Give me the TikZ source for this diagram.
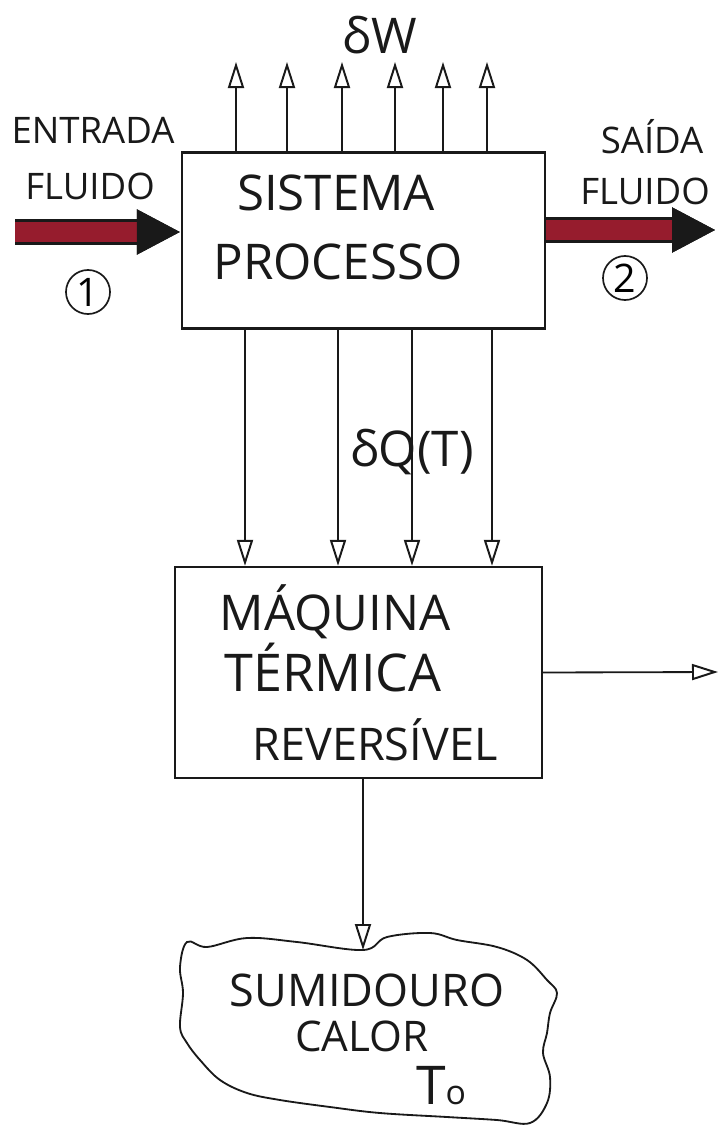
\documentclass[tikz,border=0pt]{standalone}
\usepackage{fontspec}
\setmainfont{Open Sans}
\usepackage{xcolor}
\definecolor{fluid}{RGB}{150,28,45}
\definecolor{pencil}{RGB}{25,25,25}
\usepackage{tikz}
\usetikzlibrary{arrows.meta, positioning, calc}

\begin{document}
\begin{tikzpicture}[
        x=0.025cm, y=-0.025cm,
        caixa/.style={rectangle, draw=pencil, line width=1.6pt, inner sep=0pt},
        rotulo/.style={font=\fontsize{35}{38}\selectfont, text=pencil, inner sep=1pt},
        nota/.style={font=\fontsize{26}{30}\selectfont, text=pencil, inner sep=1pt},
        seta/.style={draw=pencil, line width=1.3pt, -{Triangle[open, length=0.65cm, width=0.4cm, line width=1.4pt]}},
        fluxo/.style={draw=fluid, line width=0.52cm, preaction={draw=pencil, line width=0.64cm}, -{Triangle[length=1.1cm, width=1.05cm, color=pencil, fill=pencil]}},
        marco/.style={circle, draw=pencil, line width=1.2pt, minimum size=1.1cm, inner sep=0pt, font=\fontsize{28}{30}\selectfont}
    ]
        \useasboundingbox (0,0) rectangle (724,1128);

        \node[caixa, minimum width=9.075cm, minimum height=4.4cm] (sis) at (363.5,240.5) {};
        \node[rotulo] (sis1) at (336,193) {SISTEMA};
        \node[rotulo] (sis2) at (338,262) {PROCESSO};

        \node[caixa, minimum width=9.175cm, minimum height=5.275cm] (maq) at (358.5,672.5) {};
        \node[rotulo] (maq1) at (335,612) {MÁQUINA};
        \node[rotulo, font=\fontsize{37}{40}\selectfont] (maq2) at (333,668) {TÉRMICA};
        \node[rotulo, font=\fontsize{32}{35}\selectfont] (maq3) at (375,740) {REVERSÍVEL};

        \node[nota] (ent1) at (93,130) {ENTRADA};
        \node[nota] (ent2) at (90,186) {FLUIDO};
        \node[nota] (sai1) at (652,137) {SAÍDA};
        \node[nota] (sai2) at (645,191) {FLUIDO};
        \node[marco] (m1) at (88,292) {1};
        \node[marco] (m2) at (625,278) {2};

        \coordinate (ent) at (15,232);
        \coordinate (sai) at (716,230);
        \draw[fluxo] (ent) -- (ent -| sis.west);
        \draw[fluxo] (sai -| sis.east) -- (sai);

        \node[rotulo] (dw) at (380,35) {δW};
        \foreach \x [count=\i] in {236,287,342,395,443,487} {
            \coordinate (w\i) at (\x,62);
            \draw[seta] (sis.north -| w\i) -- (w\i);
        }

        \foreach \x [count=\i] in {245,338,412,492} {
            \coordinate (q\i) at (\x,450);
            \draw[seta] (sis.south -| q\i) -- (maq.north -| q\i);
        }
        \node[rotulo] (dq) at (412,452) {δQ(T)};

        \coordinate (wout) at (718,672);
        \draw[seta] (maq.east) -- (wout);

        \draw[pencil, line width=1.3pt] plot[smooth cycle, tension=0.6] coordinates {
            (187,942) (207,947) (247,938) (297,942) (363,950) (387,937) (430,933)
            (457,940) (497,947) (527,960) (547,980) (557,993) (550,1013) (547,1033)
            (543,1053) (550,1077) (547,1103) (530,1123) (497,1120) (447,1117)
            (380,1113) (330,1107) (280,1100) (247,1093) (220,1080) (200,1060)
            (187,1043) (180,1027) (183,993) (180,967)};
        \coordinate (sumtop) at (363,950);
        \node[rotulo, font=\fontsize{32}{35}\selectfont] (sum1) at (367,990) {SUMIDOURO};
        \node[rotulo, font=\fontsize{30}{34}\selectfont] (sum2) at (362,1036) {CALOR};
        \node[rotulo, font=\fontsize{38}{42}\selectfont] (sum3) at (441,1086) {T{\fontsize{24}{26}\selectfont o}};
        \draw[seta] (maq.south -| sumtop) -- (sumtop);
    \end{tikzpicture}
\end{document}
